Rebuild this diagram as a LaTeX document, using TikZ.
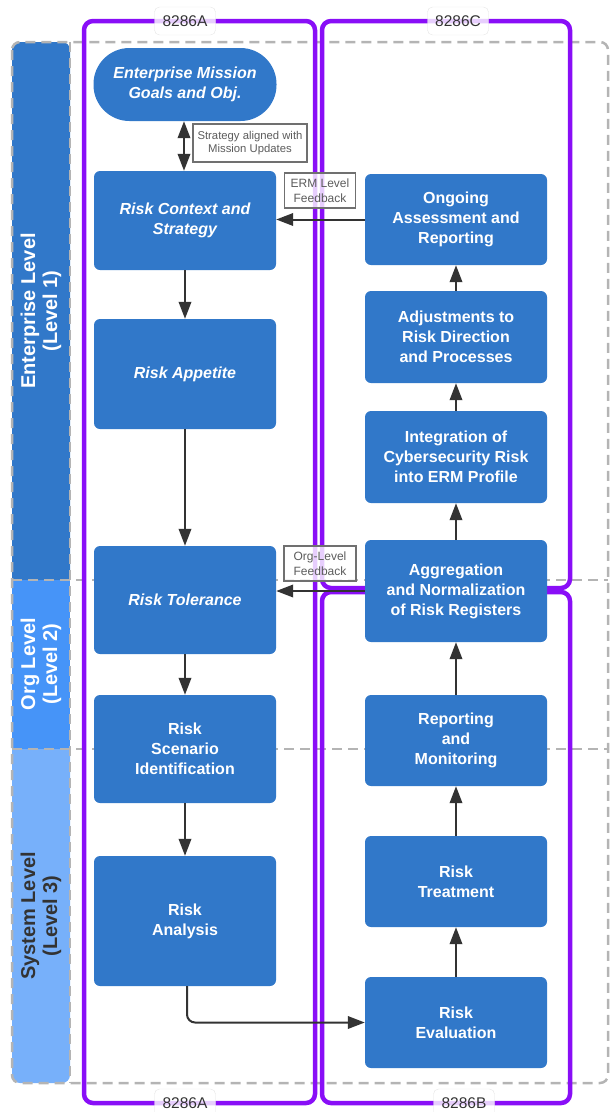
\documentclass[tikz,border=0pt]{standalone}
\usepackage{fontspec}
\setmainfont{Liberation Sans}
\usetikzlibrary{arrows.meta}

\definecolor{boxblue}{RGB}{49,120,201}
\definecolor{orgblue}{RGB}{70,148,248}
\definecolor{sysblue}{RGB}{119,176,250}
\definecolor{purp}{RGB}{137,14,247}
\definecolor{lanegray}{RGB}{180,180,180}
\definecolor{ink}{RGB}{51,51,51}
\definecolor{notegray}{RGB}{112,112,112}

\tikzset{
  rbox/.style={rectangle, rounded corners=6pt, fill=boxblue, text=white, align=center,
    minimum width=182pt, inner sep=2pt, font=\bfseries\fontsize{16}{20}\selectfont},
  ribox/.style={rbox, font=\bfseries\itshape\fontsize{16}{20}\selectfont},
  lane/.style={draw=lanegray, line width=2.5pt, dash pattern=on 10pt off 6pt},
  purpbox/.style={draw=purp, line width=4.5pt, rounded corners=9pt},
  tag/.style={draw=black!10, fill=white, fill opacity=0.8, text opacity=1, rounded corners=5pt,
    minimum width=61pt, minimum height=28pt, text=ink, font=\fontsize{15.5}{18}\selectfont},
  note/.style={draw=notegray, line width=1.8pt, fill=white, fill opacity=0.8, text opacity=1,
    text=ink!80, align=center, inner sep=2pt, font=\fontsize{11.3}{13.5}\selectfont},
  fbnote/.style={note, font=\fontsize{12}{14.5}\selectfont},
  lvl/.style={rotate=90, align=center, font=\bfseries\fontsize{20}{22}\selectfont},
  tip/.tip={Triangle[length=17pt,width=12.5pt]},
  flow/.style={draw=ink, line width=2pt, -tip}
}

\begin{document}
\begin{tikzpicture}[x=1pt,y=-1pt]
  \useasboundingbox (0,0) rectangle (611,1112);

  % level bands
  \fill[boxblue] (70,580) -- (12,580) [rounded corners=8pt] -- (12,42) -- (70,42) [sharp corners] -- cycle;
  \fill[orgblue] (12,580) rectangle (70,749);
  \fill[sysblue] (70,749) -- (12,749) [rounded corners=8pt] -- (12,1083) -- (70,1083) [sharp corners] -- cycle;
  \node[lvl, text=white] (l1) at (41,311) {Enterprise Level\\(Level 1)};
  \node[lvl, text=white] (l2) at (41,664) {Org Level\\(Level 2)};
  \node[lvl, text=ink] (l3) at (41,916) {System Level\\(Level 3)};

  \draw[lane, rounded corners=8pt] (12,42) rectangle (608,1083);
  \draw[lane] (70,42) -- (70,1083);
  \draw[lane] (12,580) -- (608,580);
  \draw[lane] (12,749) -- (608,749);

  % publication frames
  \draw[purpbox] (84,21) rectangle (315,1103);
  \draw[purpbox] (322,21) rectangle (570,588);
  \draw[purpbox] (322,592) rectangle (570,1103);
  \node[tag] (ta) at (185,21) {8286A};
  \node[tag] (tc) at (458,21) {8286C};
  \node[tag] (tab) at (185,1103) {8286A};
  \node[tag] (tb) at (464,1103) {8286B};

  % left column
  \node[ribox, rounded corners=36pt, minimum height=73pt, minimum width=183pt] (mission) at (185,84.5) {Enterprise Mission\\Goals and Obj.};
  \node[ribox, minimum height=99pt] (ctx) at (185,220.5) {Risk Context and\\Strategy};
  \node[ribox, minimum height=110pt] (app) at (185,374) {Risk Appetite};
  \node[ribox, minimum height=108pt] (tol) at (185,600) {Risk Tolerance};
  \node[rbox, minimum height=108pt] (scen) at (185,749) {Risk\\Scenario\\Identification};
  \node[rbox, minimum height=130pt] (ana) at (185,921) {Risk\\Analysis};

  % right column
  \node[rbox, minimum height=91pt] (ongo) at (456,219.5) {Ongoing\\Assessment and\\Reporting};
  \node[rbox, minimum height=92pt] (adj) at (456,337) {Adjustments to\\Risk Direction\\and Processes};
  \node[rbox, minimum height=92pt] (integ) at (456,457) {Integration of\\Cybersecurity Risk\\into ERM Profile};
  \node[rbox, minimum height=102pt] (aggr) at (456,591) {Aggregation\\and Normalization\\of Risk Registers};
  \node[rbox, minimum height=91pt] (repmon) at (456,740.5) {Reporting\\and\\Monitoring};
  \node[rbox, minimum height=91pt] (treat) at (456,881.5) {Risk\\Treatment};
  \node[rbox, minimum height=91pt] (eval) at (456,1022.5) {Risk\\Evaluation};

  % connectors
  \draw[flow, tip-tip] ([xshift=-1pt]mission.south) -- ([xshift=-1pt]ctx.north);
  \draw[flow] (ctx) -- (app);
  \draw[flow] (app) -- (tol);
  \draw[flow] (tol) -- (scen);
  \draw[flow] (scen) -- (ana);
  \draw[flow, rounded corners=8pt] ([xshift=2pt]ana.south) |- (eval.west);
  \draw[flow] (eval) -- (treat);
  \draw[flow] (treat) -- (repmon);
  \draw[flow] (repmon) -- (aggr);
  \draw[flow] (aggr) -- (integ);
  \draw[flow] (integ) -- (adj);
  \draw[flow] (adj) -- (ongo);
  \draw[flow] (ongo.west) -- (ongo.west -| ctx.east);
  \draw[flow] (aggr.west) -- (aggr.west -| tol.east);

  % notes
  \node[note, minimum width=114pt, minimum height=38pt] (strat) at (250,143) {Strategy aligned with\\Mission Updates};
  \node[fbnote, minimum width=71pt, minimum height=35pt] (ermfb) at (320,190.5) {ERM Level\\Feedback};
  \node[fbnote, minimum width=72pt, minimum height=35pt] (orgfb) at (320,563.5) {Org-Level\\Feedback};
\end{tikzpicture}
\end{document}
